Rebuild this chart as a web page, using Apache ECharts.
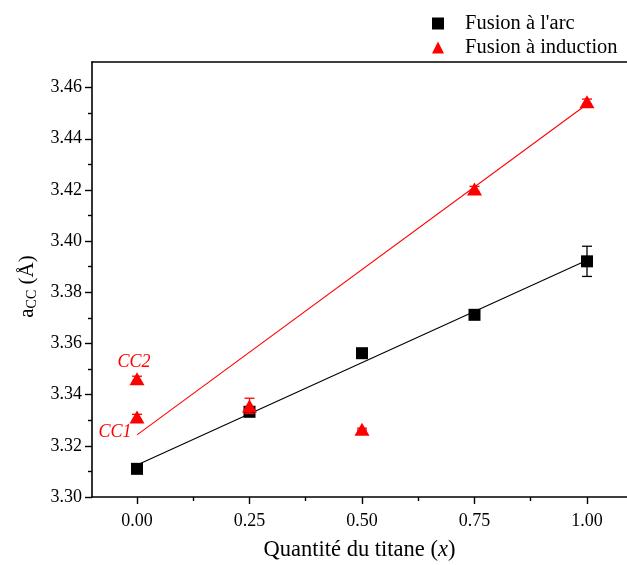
<!DOCTYPE html>
<html>
<head>
<meta charset="utf-8">
<script src="https://cdn.jsdelivr.net/npm/echarts@6/dist/echarts.min.js"></script>
<style>html,body{margin:0;padding:0;background:#fff}#chart{width:627px;height:565px}</style>
</head>
<body>
<div id="chart"></div>
<script>
// ---- data ----
const xTickValues = [0, 0.25, 0.5, 0.75, 1.0];
const xMinorTickValues = [0.125, 0.375, 0.625, 0.875];
const yTickValues = [3.30, 3.32, 3.34, 3.36, 3.38, 3.40, 3.42, 3.44, 3.46];
const yMinorTickValues = [3.31, 3.33, 3.35, 3.37, 3.39, 3.41, 3.43, 3.45];

const arcX = [0, 0.25, 0.5, 0.75, 1.0];
const arcValues = [3.3110, 3.3333, 3.3562, 3.3712, 3.3921];
const arcErrors = [0.0012, 0.0018, 0.0010, 0.0010, 0.0059];

const inductionX = [0, 0, 0.25, 0.5, 0.75, 1.0];
const inductionValues = [3.3313, 3.3462, 3.3356, 3.3265, 3.4204, 3.4545];
const inductionErrors = [0.0010, 0.0010, 0.0030, 0.0004, 0.0010, 0.0010];
const inductionNotes = ['CC1', 'CC2', '', '', '', ''];

const fitX = [0, 1.0];
const arcFitValues = [3.3125, 3.3925];
const inductionFitValues = [3.3243, 3.4535];

// visible x range (the frame runs past the right edge of the picture)
const xMin = -0.1;
const xMax = 1.0889;

// ---- chart ----
const serif = '"Liberation Serif", "DejaVu Serif", serif';
const chart = echarts.init(document.getElementById('chart'));

function errorData(xs, ys, es) {
  return xs.map((x, i) => [x, ys[i] - es[i], ys[i] + es[i]]);
}
function errorRenderer(color) {
  return function (params, api) {
    const x = api.value(0);
    const lo = api.coord([x, api.value(1)]);
    const hi = api.coord([x, api.value(2)]);
    const w = 5;
    const style = { stroke: color, lineWidth: 1.3 };
    return {
      type: 'group',
      children: [
        { type: 'line', shape: { x1: lo[0], y1: lo[1], x2: hi[0], y2: hi[1] }, style },
        { type: 'line', shape: { x1: lo[0] - w, y1: lo[1], x2: lo[0] + w, y2: lo[1] }, style },
        { type: 'line', shape: { x1: hi[0] - w, y1: hi[1], x2: hi[0] + w, y2: hi[1] }, style }
      ]
    };
  };
}

const noteOffsets = { CC1: { position: 'left', offset: [7, 15] }, CC2: { position: 'top', offset: [-3, 4] } };

const inductionData = inductionX.map((x, i) => {
  const item = { value: [x, inductionValues[i]] };
  const n = inductionNotes[i];
  if (n) {
    item.label = Object.assign({
      show: true, formatter: n, color: '#ff0000', fontFamily: serif,
      fontStyle: 'italic', fontSize: 18
    }, noteOffsets[n]);
  }
  return item;
});

const axisLineStyle = { color: '#000', width: 1.6 };
const tickStyle = { color: '#000', width: 1.4 };

const option = {
  animation: false,
  backgroundColor: '#fff',
  grid: { left: 92, right: 0, top: 62, bottom: 68, show: false, containLabel: false, outerBoundsMode: 'none' },
  legend: {
    orient: 'vertical', left: 427, top: 8, itemWidth: 12, itemHeight: 12, itemGap: 3,
    data: [
      { name: "Fusion à l'arc", icon: 'rect' },
      { name: 'Fusion à induction', icon: 'triangle' }
    ],
    textStyle: { fontFamily: serif, fontSize: 20.5, color: '#000', lineHeight: 21, padding: [0, 0, 0, 16] }
  },
  xAxis: [
    {
      type: 'value', min: xMin, max: xMax, position: 'bottom',
      name: '{t|Quantité du titane (}{i|x}{t|)}', nameLocation: 'middle', nameGap: 42,
      nameTextStyle: { rich: { t: { fontFamily: serif, fontSize: 22.5, color: '#000' }, i: { fontFamily: serif, fontSize: 22.5, fontStyle: 'italic', color: '#000' } } },
      splitLine: { show: false },
      axisLine: { show: true, onZero: false, lineStyle: axisLineStyle },
      axisTick: { show: true, length: 7, lineStyle: tickStyle, customValues: xTickValues },
      axisLabel: { customValues: xTickValues, margin: 15, fontFamily: serif, fontSize: 18, color: '#000', formatter: v => v.toFixed(2) }
    },
    {
      type: 'value', min: xMin, max: xMax, position: 'bottom',
      splitLine: { show: false },
      axisLine: { show: false, onZero: false },
      axisTick: { show: true, length: 4, lineStyle: tickStyle, customValues: xMinorTickValues },
      axisLabel: { show: false }
    },
    {
      type: 'value', min: xMin, max: xMax, position: 'top',
      splitLine: { show: false },
      axisLine: { show: true, onZero: false, lineStyle: axisLineStyle },
      axisTick: { show: false },
      axisLabel: { show: false }
    }
  ],
  yAxis: [
    {
      type: 'value', min: 3.30, max: 3.47, position: 'left',
      name: '{a|a}{s|CC}{a| (Å)}', nameLocation: 'middle', nameGap: 52, nameRotate: 90,
      nameTextStyle: { padding: [0, 14, 0, 0], rich: {
        a: { fontFamily: serif, fontSize: 21, color: '#000', lineHeight: 24 },
        s: { fontFamily: serif, fontSize: 14, color: '#000', lineHeight: 24, verticalAlign: 'bottom', padding: [8, 0, 0, 0] }
      } },
      splitLine: { show: false },
      axisLine: { show: true, onZero: false, lineStyle: axisLineStyle },
      axisTick: { show: true, length: 7, lineStyle: tickStyle, customValues: yTickValues },
      axisLabel: { customValues: yTickValues, margin: 10, fontFamily: serif, fontSize: 18, color: '#000', formatter: v => v.toFixed(2) }
    },
    {
      type: 'value', min: 3.30, max: 3.47, position: 'left',
      splitLine: { show: false },
      axisLine: { show: false, onZero: false },
      axisTick: { show: true, length: 4, lineStyle: tickStyle, customValues: yMinorTickValues },
      axisLabel: { show: false }
    }
  ],
  series: [
    {
      name: 'arcFit', type: 'line', data: fitX.map((x, i) => [x, arcFitValues[i]]),
      symbol: 'none', lineStyle: { color: '#000', width: 1.1 }, z: 2, silent: true
    },
    {
      name: 'inductionFit', type: 'line', data: fitX.map((x, i) => [x, inductionFitValues[i]]),
      symbol: 'none', lineStyle: { color: '#ff0000', width: 1.1 }, z: 2, silent: true
    },
    {
      name: 'arcErr', type: 'custom', renderItem: errorRenderer('#000'),
      data: errorData(arcX, arcValues, arcErrors), z: 3, silent: true
    },
    {
      name: "Fusion à l'arc", type: 'scatter', symbol: 'rect', symbolSize: 12,
      itemStyle: { color: '#000', opacity: 1 }, data: arcX.map((x, i) => [x, arcValues[i]]), z: 4
    },
    {
      name: 'inductionErr', type: 'custom', renderItem: errorRenderer('#ff0000'),
      data: errorData(inductionX, inductionValues, inductionErrors), z: 5, silent: true
    },
    {
      name: 'Fusion à induction', type: 'scatter', symbol: 'triangle', symbolSize: [15, 13],
      itemStyle: { color: '#ff0000', opacity: 1 }, data: inductionData, z: 6
    }
  ]
};
chart.setOption(option);
</script>
</body>
</html>
